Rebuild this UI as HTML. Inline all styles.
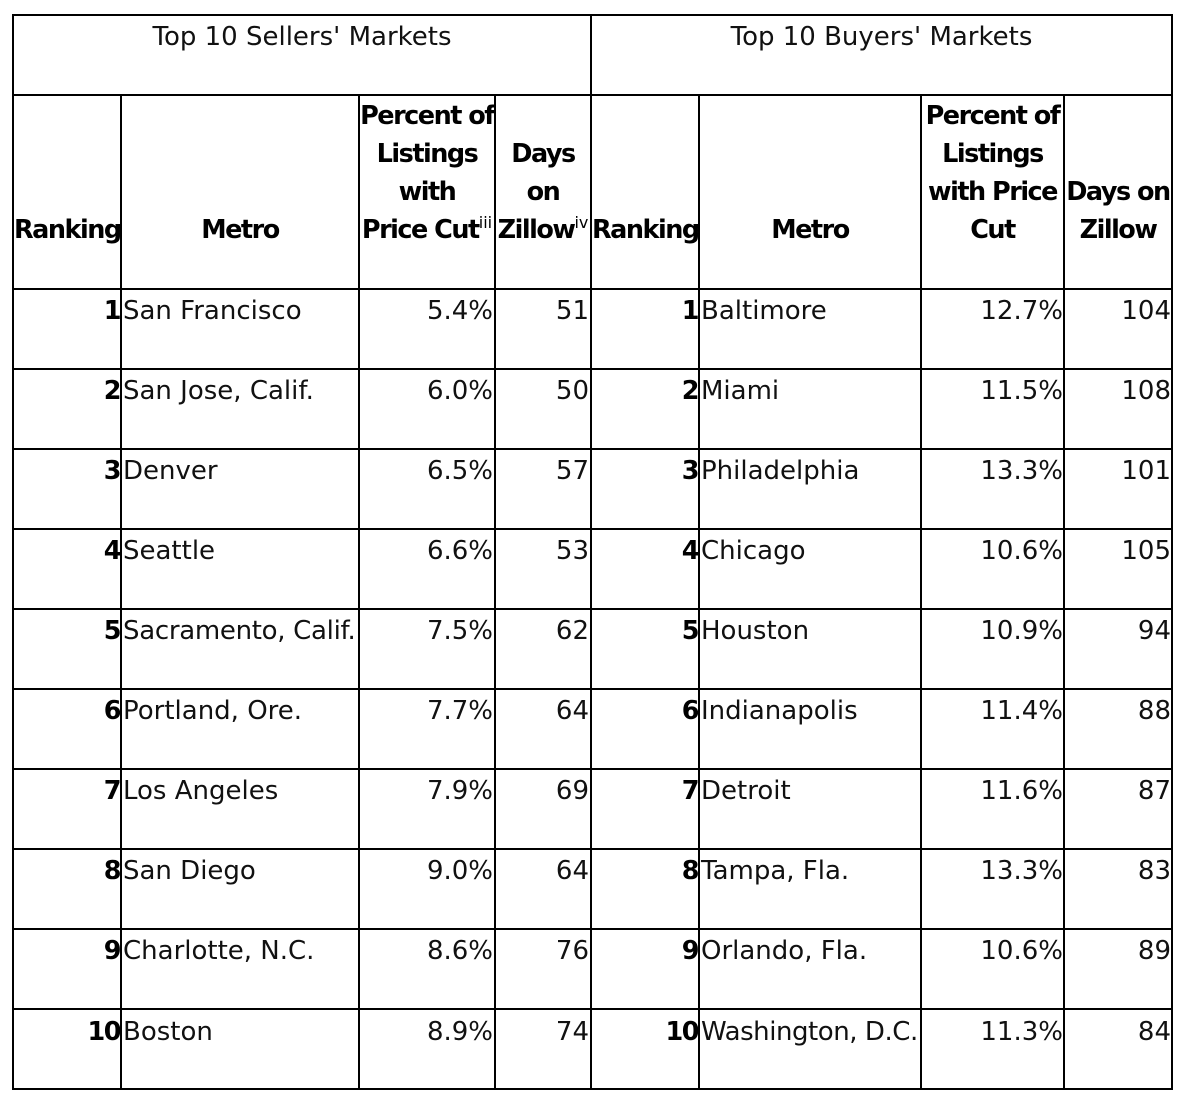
<!DOCTYPE html>
<html><head><meta charset="utf-8"><style>
html,body{margin:0;padding:0;background:#fff;}
body{width:1190px;height:1108px;position:relative;overflow:hidden;font-family:"DejaVu Sans","Liberation Sans",sans-serif;font-size:26px;color:#111;}
.h,.v{position:absolute;background:#000;}
.h{height:2px;left:12px;width:1161px;}
.v{width:2px;}
.t{position:absolute;line-height:38px;white-space:nowrap;}
.b{font-weight:bold;letter-spacing:-1.5px;color:#000;font-size:25.5px;}
.c{text-align:center;}
.r{text-align:right;}
sup{font-size:16px;font-weight:normal;letter-spacing:0;vertical-align:0;position:relative;top:-10px;line-height:0;}
</style></head><body>
<!-- horizontal lines -->
<div class="h" style="top:14px"></div>
<div class="h" style="top:94px"></div>
<div class="h" style="top:288px"></div>
<div class="h" style="top:368px"></div>
<div class="h" style="top:448px"></div>
<div class="h" style="top:528px"></div>
<div class="h" style="top:608px"></div>
<div class="h" style="top:688px"></div>
<div class="h" style="top:768px"></div>
<div class="h" style="top:848px"></div>
<div class="h" style="top:928px"></div>
<div class="h" style="top:1008px"></div>
<div class="h" style="top:1088px"></div>
<!-- vertical lines -->
<div class="v" style="left:12px;top:14px;height:1076px"></div>
<div class="v" style="left:120px;top:94px;height:996px"></div>
<div class="v" style="left:358px;top:94px;height:996px"></div>
<div class="v" style="left:494px;top:94px;height:996px"></div>
<div class="v" style="left:590px;top:14px;height:1076px"></div>
<div class="v" style="left:698px;top:94px;height:996px"></div>
<div class="v" style="left:920px;top:94px;height:996px"></div>
<div class="v" style="left:1063px;top:94px;height:996px"></div>
<div class="v" style="left:1171px;top:14px;height:1076px"></div>

<!-- titles -->
<div class="t c" style="left:14px;width:576px;top:18px">Top 10 Sellers' Markets</div>
<div class="t c" style="left:592px;width:579px;top:18px">Top 10 Buyers' Markets</div>

<!-- headers left -->
<div class="t b c" style="left:14px;width:106px;top:211px">Ranking</div>
<div class="t b c" style="left:122px;width:236px;top:211px">Metro</div>
<div class="t b c" style="left:360px;width:134px;top:97px">Percent of<br>Listings<br>with<br>Price Cut<sup>iii</sup></div>
<div class="t b c" style="left:496px;width:94px;top:135px">Days<br>on<br>Zillow<sup>iv</sup></div>
<!-- headers right -->
<div class="t b c" style="left:592px;width:106px;top:211px">Ranking</div>
<div class="t b c" style="left:700px;width:220px;top:211px">Metro</div>
<div class="t b c" style="left:922px;width:141px;top:97px">Percent of<br>Listings<br>with Price<br>Cut</div>
<div class="t b c" style="left:1065px;width:106px;top:173px">Days on<br>Zillow</div>

<!-- data rows -->
<div class="t b r" style="left:14px;width:106px;top:292px">1</div>
<div class="t" style="left:123px;top:292px">San Francisco</div>
<div class="t r" style="left:360px;width:133px;top:292px">5.4%</div>
<div class="t r" style="left:496px;width:93px;top:292px">51</div>
<div class="t b r" style="left:592px;width:106px;top:292px">1</div>
<div class="t" style="left:701px;top:292px">Baltimore</div>
<div class="t r" style="left:922px;width:141px;top:292px">12.7%</div>
<div class="t r" style="left:1065px;width:106px;top:292px">104</div>

<div class="t b r" style="left:14px;width:106px;top:372px">2</div>
<div class="t" style="left:123px;top:372px">San Jose, Calif.</div>
<div class="t r" style="left:360px;width:133px;top:372px">6.0%</div>
<div class="t r" style="left:496px;width:93px;top:372px">50</div>
<div class="t b r" style="left:592px;width:106px;top:372px">2</div>
<div class="t" style="left:701px;top:372px">Miami</div>
<div class="t r" style="left:922px;width:141px;top:372px">11.5%</div>
<div class="t r" style="left:1065px;width:106px;top:372px">108</div>

<div class="t b r" style="left:14px;width:106px;top:452px">3</div>
<div class="t" style="left:123px;top:452px">Denver</div>
<div class="t r" style="left:360px;width:133px;top:452px">6.5%</div>
<div class="t r" style="left:496px;width:93px;top:452px">57</div>
<div class="t b r" style="left:592px;width:106px;top:452px">3</div>
<div class="t" style="left:701px;top:452px">Philadelphia</div>
<div class="t r" style="left:922px;width:141px;top:452px">13.3%</div>
<div class="t r" style="left:1065px;width:106px;top:452px">101</div>

<div class="t b r" style="left:14px;width:106px;top:532px">4</div>
<div class="t" style="left:123px;top:532px">Seattle</div>
<div class="t r" style="left:360px;width:133px;top:532px">6.6%</div>
<div class="t r" style="left:496px;width:93px;top:532px">53</div>
<div class="t b r" style="left:592px;width:106px;top:532px">4</div>
<div class="t" style="left:701px;top:532px">Chicago</div>
<div class="t r" style="left:922px;width:141px;top:532px">10.6%</div>
<div class="t r" style="left:1065px;width:106px;top:532px">105</div>

<div class="t b r" style="left:14px;width:106px;top:612px">5</div>
<div class="t" style="left:123px;top:612px;letter-spacing:-0.3px">Sacramento, Calif.</div>
<div class="t r" style="left:360px;width:133px;top:612px">7.5%</div>
<div class="t r" style="left:496px;width:93px;top:612px">62</div>
<div class="t b r" style="left:592px;width:106px;top:612px">5</div>
<div class="t" style="left:701px;top:612px">Houston</div>
<div class="t r" style="left:922px;width:141px;top:612px">10.9%</div>
<div class="t r" style="left:1065px;width:106px;top:612px">94</div>

<div class="t b r" style="left:14px;width:106px;top:692px">6</div>
<div class="t" style="left:123px;top:692px">Portland, Ore.</div>
<div class="t r" style="left:360px;width:133px;top:692px">7.7%</div>
<div class="t r" style="left:496px;width:93px;top:692px">64</div>
<div class="t b r" style="left:592px;width:106px;top:692px">6</div>
<div class="t" style="left:701px;top:692px">Indianapolis</div>
<div class="t r" style="left:922px;width:141px;top:692px">11.4%</div>
<div class="t r" style="left:1065px;width:106px;top:692px">88</div>

<div class="t b r" style="left:14px;width:106px;top:772px">7</div>
<div class="t" style="left:123px;top:772px">Los Angeles</div>
<div class="t r" style="left:360px;width:133px;top:772px">7.9%</div>
<div class="t r" style="left:496px;width:93px;top:772px">69</div>
<div class="t b r" style="left:592px;width:106px;top:772px">7</div>
<div class="t" style="left:701px;top:772px">Detroit</div>
<div class="t r" style="left:922px;width:141px;top:772px">11.6%</div>
<div class="t r" style="left:1065px;width:106px;top:772px">87</div>

<div class="t b r" style="left:14px;width:106px;top:852px">8</div>
<div class="t" style="left:123px;top:852px">San Diego</div>
<div class="t r" style="left:360px;width:133px;top:852px">9.0%</div>
<div class="t r" style="left:496px;width:93px;top:852px">64</div>
<div class="t b r" style="left:592px;width:106px;top:852px">8</div>
<div class="t" style="left:701px;top:852px">Tampa, Fla.</div>
<div class="t r" style="left:922px;width:141px;top:852px">13.3%</div>
<div class="t r" style="left:1065px;width:106px;top:852px">83</div>

<div class="t b r" style="left:14px;width:106px;top:932px">9</div>
<div class="t" style="left:123px;top:932px">Charlotte, N.C.</div>
<div class="t r" style="left:360px;width:133px;top:932px">8.6%</div>
<div class="t r" style="left:496px;width:93px;top:932px">76</div>
<div class="t b r" style="left:592px;width:106px;top:932px">9</div>
<div class="t" style="left:701px;top:932px">Orlando, Fla.</div>
<div class="t r" style="left:922px;width:141px;top:932px">10.6%</div>
<div class="t r" style="left:1065px;width:106px;top:932px">89</div>

<div class="t b r" style="left:14px;width:106px;top:1013px">10</div>
<div class="t" style="left:123px;top:1013px">Boston</div>
<div class="t r" style="left:360px;width:133px;top:1013px">8.9%</div>
<div class="t r" style="left:496px;width:93px;top:1013px">74</div>
<div class="t b r" style="left:592px;width:106px;top:1013px">10</div>
<div class="t" style="left:701px;top:1013px;letter-spacing:-0.45px">Washington, D.C.</div>
<div class="t r" style="left:922px;width:141px;top:1013px">11.3%</div>
<div class="t r" style="left:1065px;width:106px;top:1013px">84</div>
</body></html>
